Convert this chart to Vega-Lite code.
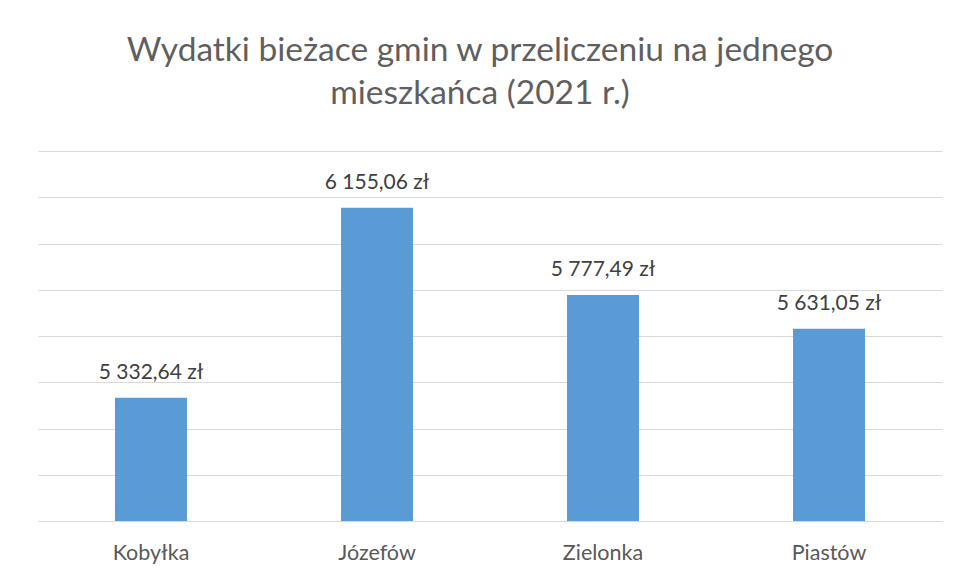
{
  "$schema": "https://vega.github.io/schema/vega-lite/v6.json",
  "autosize": "none",
  "width": 904,
  "height": 370,
  "padding": {"left": 38, "top": 151, "right": 16, "bottom": 54},
  "background": "white",
  "config": {
    "locale": {"number": {"decimal": ",", "thousands": " ", "grouping": [3], "currency": ["", " zł"]}},
    "view": {"stroke": null},
    "font": "Lato",
    "text": {"font": "Lato"}
  },
  "title": {
    "text": ["Wydatki bieżace gmin w przeliczeniu  na jednego", "mieszkańca (2021 r.)"],
    "font": "Lato",
    "fontSize": 33.5,
    "fontWeight": "normal",
    "color": "#5f5f5f",
    "lineHeight": 43,
    "anchor": "middle",
    "dx": -10,
    "offset": 40
  },
  "data": {
    "values": [
      {"gmina": "Kobyłka", "wydatki": 5332.64},
      {"gmina": "Józefów", "wydatki": 6155.06},
      {"gmina": "Zielonka", "wydatki": 5777.49},
      {"gmina": "Piastów", "wydatki": 5631.05}
    ]
  },
  "encoding": {
    "x": {
      "field": "gmina",
      "type": "nominal",
      "sort": null,
      "scale": {"paddingInner": 0, "paddingOuter": 0},
      "axis": {
        "title": null,
        "labelAngle": 0,
        "labelFont": "Lato",
        "labelFontSize": 21.5,
        "labelColor": "#595959",
        "labelPadding": 21,
        "ticks": false,
        "domain": true,
        "domainColor": "#D9D9D9",
        "domainWidth": 1
      }
    },
    "y": {
      "field": "wydatki",
      "type": "quantitative",
      "scale": {"domain": [4800, 6400], "zero": false, "nice": false},
      "axis": {
        "title": null,
        "labels": false,
        "ticks": false,
        "domain": false,
        "values": [4800, 5000, 5200, 5400, 5600, 5800, 6000, 6200, 6400],
        "gridColor": "#D9D9D9",
        "gridWidth": 1
      }
    }
  },
  "layer": [
    {"mark": {"type": "bar", "width": 72, "color": "#5B9BD5", "clip": true}},
    {
      "mark": {"type": "text", "baseline": "alphabetic", "dy": -19, "fontSize": 21, "color": "#404040", "font": "Lato"},
      "encoding": {"text": {"field": "wydatki", "type": "quantitative", "format": "$,.2f"}}
    }
  ]
}
